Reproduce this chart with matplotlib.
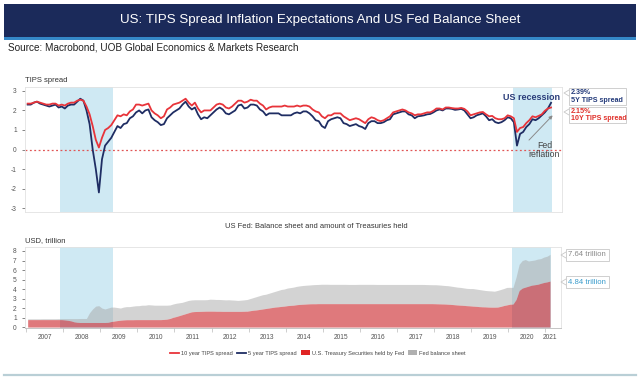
import numpy as np
import matplotlib
matplotlib.use("Agg")
import matplotlib.pyplot as plt
from matplotlib.lines import Line2D
from matplotlib.patches import Rectangle, Patch

plt.rcParams['font.family'] = ['Liberation Sans', 'DejaVu Sans']

# ---------------- data (monthly, Jan 2007 - Feb 2021) ----------------
start_year = 2007
tips10 = [
    2.35, 2.35, 2.40, 2.45, 2.40, 2.35, 2.30, 2.30, 2.35, 2.35, 2.25, 2.30,   # 2007
    2.25, 2.35, 2.40, 2.40, 2.50, 2.55, 2.50, 2.20, 1.80, 1.20, 0.50, 0.10,   # 2008
    0.60, 1.00, 1.10, 1.25, 1.50, 1.75, 1.70, 1.80, 1.75, 1.95, 2.05, 2.30,   # 2009
    2.30, 2.25, 2.30, 2.35, 2.00, 1.85, 1.75, 1.60, 1.70, 2.05, 2.15, 2.30,   # 2010
    2.35, 2.40, 2.50, 2.60, 2.40, 2.25, 2.40, 2.10, 1.90, 2.00, 2.00, 2.00,   # 2011
    2.15, 2.30, 2.35, 2.30, 2.15, 2.10, 2.20, 2.35, 2.50, 2.50, 2.40, 2.45,   # 2012
    2.55, 2.50, 2.50, 2.35, 2.25, 2.05, 2.15, 2.20, 2.20, 2.20, 2.20, 2.25,   # 2013
    2.20, 2.20, 2.20, 2.25, 2.20, 2.25, 2.25, 2.20, 2.05, 1.95, 1.90, 1.70,   # 2014
    1.60, 1.75, 1.75, 1.85, 1.85, 1.85, 1.70, 1.60, 1.50, 1.55, 1.60, 1.55,   # 2015
    1.45, 1.35, 1.55, 1.65, 1.60, 1.50, 1.45, 1.50, 1.60, 1.70, 1.90, 1.95,   # 2016
    2.00, 2.05, 2.00, 1.90, 1.85, 1.75, 1.80, 1.80, 1.85, 1.90, 1.90, 1.98,   # 2017
    2.10, 2.10, 2.05, 2.15, 2.15, 2.12, 2.10, 2.10, 2.13, 2.08, 1.95, 1.75,   # 2018
    1.80, 1.85, 1.90, 1.92, 1.80, 1.70, 1.72, 1.60, 1.55, 1.55, 1.60, 1.75,   # 2019
    1.70, 1.60, 0.90, 1.10, 1.15, 1.35, 1.50, 1.70, 1.65, 1.72, 1.80, 1.98,   # 2020
    2.10, 2.15,                                                               # 2021
]
tips5 = [
    2.30, 2.30, 2.40, 2.45, 2.35, 2.30, 2.25, 2.20, 2.25, 2.30, 2.15, 2.20,
    2.10, 2.25, 2.30, 2.30, 2.45, 2.60, 2.50, 2.00, 1.30, 0.00, -1.00, -2.20,
    -0.50, 0.20, 0.40, 0.60, 0.90, 1.20, 1.10, 1.30, 1.35, 1.60, 1.70, 1.90,
    2.00, 1.85, 2.00, 2.05, 1.65, 1.50, 1.40, 1.25, 1.30, 1.60, 1.75, 1.90,
    2.00, 2.10, 2.30, 2.45, 2.20, 2.05, 2.15, 1.80, 1.55, 1.65, 1.60, 1.75,
    1.90, 2.05, 2.15, 2.05, 1.85, 1.80, 1.90, 2.00, 2.25, 2.30, 2.10, 2.15,
    2.30, 2.30, 2.25, 2.05, 1.95, 1.75, 1.85, 1.85, 1.85, 1.85, 1.75, 1.75,
    1.75, 1.75, 1.85, 1.90, 1.85, 1.95, 1.95, 1.85, 1.70, 1.50, 1.45, 1.20,
    1.10, 1.45, 1.55, 1.60, 1.65, 1.60, 1.35, 1.30, 1.20, 1.25, 1.30, 1.20,
    1.15, 1.05, 1.35, 1.45, 1.45, 1.35, 1.35, 1.40, 1.50, 1.55, 1.80, 1.85,
    1.90, 1.95, 1.95, 1.80, 1.75, 1.60, 1.70, 1.72, 1.75, 1.80, 1.82, 1.90,
    2.00, 2.05, 2.00, 2.10, 2.10, 2.08, 2.03, 2.05, 2.08, 2.00, 1.80, 1.60,
    1.65, 1.75, 1.80, 1.85, 1.70, 1.50, 1.55, 1.40, 1.35, 1.40, 1.50, 1.65,
    1.60, 1.40, 0.20, 0.80, 0.90, 1.15, 1.30, 1.55, 1.50, 1.60, 1.75, 1.90,
    2.10, 2.39,
]
fed_balance = [
    0.87, 0.87, 0.87, 0.87, 0.87, 0.88, 0.88, 0.88, 0.88, 0.88, 0.89, 0.89,
    0.89, 0.89, 0.89, 0.89, 0.89, 0.90, 0.90, 0.90, 1.50, 1.90, 2.20, 2.25,
    2.00, 1.90, 2.00, 2.10, 2.10, 2.05, 2.00, 2.10, 2.15, 2.15, 2.20, 2.24,
    2.25, 2.30, 2.30, 2.35, 2.33, 2.30, 2.30, 2.30, 2.30, 2.30, 2.32, 2.42,
    2.50, 2.55, 2.60, 2.70, 2.80, 2.85, 2.87, 2.87, 2.87, 2.87, 2.88, 2.93,
    2.92, 2.90, 2.90, 2.88, 2.86, 2.87, 2.85, 2.83, 2.80, 2.83, 2.86, 2.90,
    3.00, 3.10, 3.20, 3.30, 3.40, 3.45, 3.55, 3.65, 3.75, 3.85, 3.95, 4.00,
    4.10, 4.15, 4.20, 4.28, 4.33, 4.37, 4.40, 4.42, 4.45, 4.47, 4.48, 4.50,
    4.50, 4.50, 4.49, 4.49, 4.49, 4.49, 4.49, 4.49, 4.48, 4.48, 4.48, 4.49,
    4.49, 4.49, 4.49, 4.49, 4.49, 4.48, 4.48, 4.48, 4.48, 4.48, 4.48, 4.48,
    4.48, 4.48, 4.48, 4.48, 4.48, 4.48, 4.48, 4.48, 4.48, 4.47, 4.46, 4.45,
    4.45, 4.43, 4.40, 4.37, 4.35, 4.30, 4.25, 4.20, 4.17, 4.12, 4.07, 4.05,
    4.05, 4.00, 3.95, 3.90, 3.85, 3.82, 3.80, 3.77, 3.85, 3.95, 4.05, 4.17,
    4.18, 4.17, 5.25, 6.60, 7.00, 7.10, 6.95, 7.00, 7.05, 7.15, 7.20, 7.36,
    7.45, 7.64,
]
fed_treasuries = [
    0.78, 0.78, 0.78, 0.78, 0.78, 0.78, 0.78, 0.78, 0.78, 0.78, 0.78, 0.78,
    0.75, 0.71, 0.65, 0.55, 0.50, 0.48, 0.48, 0.48, 0.48, 0.48, 0.48, 0.48,
    0.48, 0.48, 0.50, 0.58, 0.63, 0.68, 0.72, 0.75, 0.77, 0.77, 0.77, 0.78,
    0.78, 0.78, 0.78, 0.78, 0.78, 0.78, 0.78, 0.78, 0.80, 0.83, 0.90, 1.02,
    1.10, 1.20, 1.30, 1.40, 1.50, 1.60, 1.63, 1.64, 1.65, 1.66, 1.67, 1.67,
    1.67, 1.66, 1.66, 1.65, 1.65, 1.65, 1.65, 1.65, 1.65, 1.65, 1.66, 1.67,
    1.72, 1.77, 1.80, 1.85, 1.90, 1.95, 2.00, 2.05, 2.10, 2.13, 2.17, 2.20,
    2.25, 2.28, 2.30, 2.35, 2.38, 2.40, 2.42, 2.44, 2.45, 2.45, 2.46, 2.46,
    2.46, 2.46, 2.46, 2.46, 2.46, 2.46, 2.46, 2.46, 2.46, 2.46, 2.46, 2.46,
    2.46, 2.46, 2.46, 2.46, 2.46, 2.46, 2.46, 2.46, 2.46, 2.46, 2.46, 2.46,
    2.46, 2.46, 2.46, 2.46, 2.46, 2.46, 2.46, 2.46, 2.46, 2.46, 2.46, 2.46,
    2.45, 2.44, 2.43, 2.42, 2.40, 2.38, 2.35, 2.32, 2.30, 2.28, 2.25, 2.23,
    2.20, 2.18, 2.15, 2.13, 2.12, 2.10, 2.09, 2.09, 2.10, 2.17, 2.26, 2.33,
    2.40, 2.42, 2.90, 3.85, 4.10, 4.20, 4.30, 4.40, 4.45, 4.50, 4.60, 4.69,
    4.75, 4.84,
]
recessions = [(2007.92, 2009.35), (2020.09, 2021.15)]
year_labels = list(range(2007, 2022))
top_yticks = [-3, -2, -1, 0, 1, 2, 3]
bottom_yticks = list(range(0, 9))

# ---------------- figure ----------------
W, H = 640, 382
fig = plt.figure(figsize=(W / 100, H / 100), dpi=100)

def fx(x):
    return x / W

def fy(y):
    return 1 - y / H

n = len(tips10)
t = start_year + np.arange(n) / 12 + 1 / 24
xlim = (2006.97, 2021.42)

NAVY = '#1f2d63'
RED = '#e8343a'
SHADE = '#cfe9f3'

# banner
fig.patches.append(Rectangle((fx(4), fy(37)), fx(632), 33 / H, transform=fig.transFigure,
                             facecolor='#1b2a5a', edgecolor='none', zorder=0))
fig.patches.append(Rectangle((fx(4), fy(40)), fx(632), 3 / H, transform=fig.transFigure,
                             facecolor='#3588c8', edgecolor='none', zorder=0))
fig.text(0.5, fy(20.5), 'US: TIPS Spread Inflation Expectations And US Fed Balance Sheet',
         color='white', fontsize=9.6, ha='center', va='center')
fig.text(fx(8), fy(48), 'Source: Macrobond, UOB Global Economics & Markets Research',
         color='#222222', fontsize=7.2, ha='left', va='center')

# ---------------- top axes ----------------
ax1 = fig.add_axes([fx(25), fy(212), fx(537), 125 / H])
for a, b in recessions:
    ax1.axvspan(a, b, color=SHADE, zorder=0, lw=0)
ax1.axhline(0, color='#e05555', ls=(0, (1.5, 2)), lw=0.9, zorder=1)
ax1.plot(t, tips5, color=NAVY, lw=1.3, zorder=2)
ax1.plot(t, tips10, color=RED, lw=1.3, zorder=3)
ax1.set_xlim(*xlim)
ax1.set_ylim(-3.2, 3.2)
ax1.set_yticks(top_yticks)
ax1.set_yticklabels([str(v) for v in top_yticks])
ax1.set_xticks([])
ax1.tick_params(axis='y', labelsize=4.8, colors='#555555', length=2, width=0.5, pad=4)
for s in ax1.spines.values():
    s.set_color('#e2e2e2')
    s.set_linewidth(0.6)
fig.text(fx(25), fy(81), 'TIPS spread', fontsize=5.5, color='#333333', ha='left', va='center')

ax1.text(2020.6, 2.68, 'US recession', color='#2a3d7a', fontsize=6.5, fontweight='bold',
         ha='center', va='center')
ax1.annotate('', xy=(2021.22, 1.85), xytext=(2020.48, 0.38),
             arrowprops=dict(arrowstyle='-|>', color='#8a8a8a', lw=0.7, mutation_scale=5))
ax1.text(2020.95, -0.02, 'Fed\nreflation', color='#444444', fontsize=6.3, ha='center',
         va='center', linespacing=1.0)

# callouts
def callout(x0, y0, x1, y1, ptr_y, txt, color, bold=True, fs=5.6):
    fig.patches.append(Rectangle((fx(x0), fy(y1)), (x1 - x0) / W, (y1 - y0) / H,
                                 transform=fig.transFigure, facecolor='white',
                                 edgecolor='#c8c8c8', lw=0.6, zorder=5))
    fig.lines.append(Line2D([fx(x0), fx(x0 - 5), fx(x0)],
                            [fy(ptr_y - 3), fy(ptr_y), fy(ptr_y + 3)],
                            transform=fig.transFigure, color='#c8c8c8', lw=0.6, zorder=5))
    fig.text(fx(x0 + 2), fy((y0 + y1) / 2), txt, color=color, fontsize=fs,
             fontweight='bold' if bold else 'normal', ha='left', va='center',
             linespacing=1.0, zorder=6)

callout(569, 88, 626, 105, 93, '2.39%\n5Y TIPS spread', '#233a7a', fs=5.1)
callout(569, 107, 626, 123, 112, '2.15%\n10Y TIPS spread', '#e0302a', fs=5.1)

# ---------------- bottom axes ----------------
fig.text(0.494, fy(227), 'US Fed: Balance sheet and amount of Treasuries held',
         fontsize=5.4, color='#333333', ha='center', va='center')
ax2 = fig.add_axes([fx(25), fy(328), fx(536), 81 / H])
for a, b in recessions:
    ax2.axvspan(a, b, color=SHADE, zorder=0, lw=0)
fb = np.array(fed_balance)
ft = np.array(fed_treasuries)
ax2.fill_between(t, ft, fb, color='#a8a8a8', alpha=0.5, lw=0, zorder=2)
ax2.fill_between(t, 0, ft, color='#c8181e', alpha=0.58, lw=0, zorder=2)
ax2.set_xlim(*xlim)
ax2.set_ylim(-0.1, 8.42)
ax2.set_yticks(bottom_yticks)
ax2.set_yticklabels([str(v) for v in bottom_yticks])
ax2.set_xticks(np.arange(2007, 2022), minor=False)
ax2.set_xticklabels([])
label_pos = [y + 0.5 for y in year_labels[:-1]] + [2021.12]
ax2.set_xticks(label_pos, minor=True)
ax2.set_xticklabels([str(y) for y in year_labels], minor=True)
ax2.tick_params(axis='x', which='major', length=3, width=0.5, colors='#bbbbbb')
ax2.tick_params(axis='x', which='minor', length=0, labelsize=4.8, labelcolor='#555555', pad=4)
ax2.tick_params(axis='y', labelsize=4.8, colors='#555555', length=2, width=0.5, pad=4)
for s in ax2.spines.values():
    s.set_color('#e2e2e2')
    s.set_linewidth(0.6)
ax2.spines['bottom'].set_color('#bbbbbb')
fig.text(fx(25), fy(241), 'USD, trillion', fontsize=5.5, color='#333333', ha='left', va='center')

callout(566, 249, 609, 261, 255, '7.64 trillion', '#8a8a8a', bold=False, fs=5.6)
callout(566, 276, 609, 288, 282, '4.84 trillion', '#3a9ccc', bold=False, fs=5.6)

# legend
handles = [Line2D([], [], color=RED, lw=1.3),
           Line2D([], [], color=NAVY, lw=1.3),
           Patch(facecolor='#e02424', edgecolor='none'),
           Patch(facecolor='#b0b0b0', edgecolor='none')]
labels = ['10 year TIPS spread', '5 year TIPS spread',
          'U.S. Treasury Securities held by Fed', 'Fed balance sheet']
fig.legend(handles, labels, loc='center', bbox_to_anchor=(0.497, fy(353)), ncol=4,
           fontsize=4.1, frameon=False, handlelength=1.6, handleheight=0.9,
           columnspacing=0.7, handletextpad=0.35, labelcolor='#444444')

# bottom rule
fig.lines.append(Line2D([fx(4), fx(636)], [fy(375), fy(375)], transform=fig.transFigure,
                        color='#b9cfd6', lw=1.6))

fig.savefig('out.png', dpi=100)
